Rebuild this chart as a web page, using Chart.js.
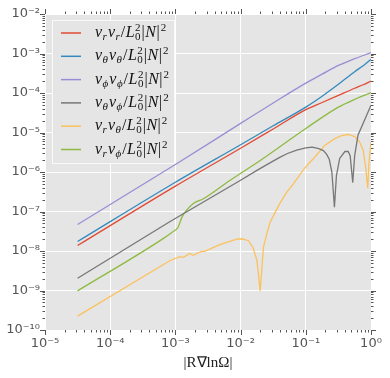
<!DOCTYPE html>
<html>
<head>
<meta charset="utf-8">
<script src="https://cdn.jsdelivr.net/npm/chart.js@4.4.1/dist/chart.umd.min.js"></script>
<style>
  html, body { margin: 0; padding: 0; background: #fff; }
  #wrap { width: 390px; height: 378px; }
</style>
</head>
<body>
<div id="wrap"><canvas id="grafico" width="390" height="378"></canvas></div>
<script>
// Datos (ejes log-log)
var xSuave = [3.16e-5, 1e-3, 1e-2, 3.16e-2, 0.1, 0.178, 0.316, 0.562, 0.759, 1];
var vrvr = [1.38e-8, 4.4e-7, 4.0e-6, 1.23e-5, 3.8e-5, 5.75e-5, 8.7e-5, 1.32e-4, 1.62e-4, 2.0e-4];
var vthvth = [1.74e-8, 5.5e-7, 4.9e-6, 1.48e-5, 4.4e-5, 8.3e-5, 1.66e-4, 3.47e-4, 4.9e-4, 7.1e-4];
var vphvph = [4.7e-8, 1.55e-6, 1.7e-5, 5.6e-5, 1.78e-4, 3.0e-4, 5.0e-4, 7.4e-4, 8.9e-4, 1.05e-3];

var xThPh = [3.16e-5, 8.3e-4, 1e-2, 1.78e-2, 2.82e-2, 3.98e-2, 5.13e-2, 7.24e-2, 0.1, 0.126, 0.158, 0.186, 0.209, 0.229, 0.251, 0.275, 0.295, 0.331, 0.398, 0.447, 0.479, 0.525, 0.562, 0.631, 0.813, 1];
var vthvph = [2.04e-9, 5.6e-8, 6.2e-7, 1.1e-6, 1.7e-6, 2.34e-6, 2.9e-6, 3.6e-6, 4.07e-6, 4.27e-6, 3.9e-6, 3.47e-6, 2.8e-6, 2.1e-6, 1.0e-6, 1.29e-7, 8.1e-7, 2.2e-6, 3.3e-6, 3.3e-6, 2.6e-6, 5.4e-7, 2.6e-6, 8.5e-6, 2.24e-5, 4.9e-5];

var xRTh = [3.16e-5, 8.3e-4, 1.17e-3, 1.32e-3, 1.66e-3, 1.86e-3, 2.51e-3, 2.82e-3, 4.79e-3, 8.7e-3, 1.05e-2, 1.32e-2, 1.55e-2, 1.78e-2, 2.0e-2, 2.24e-2, 2.51e-2, 2.82e-2, 3.39e-2, 3.98e-2, 5.01e-2, 6.46e-2, 9.1e-2, 0.112, 0.138, 0.195, 0.282, 0.355, 0.447, 0.562, 0.661, 0.759, 0.832, 0.891, 0.933, 1];
var vrvth = [2.24e-10, 5.75e-9, 7.2e-9, 6.9e-9, 8.7e-9, 7.8e-9, 9.8e-9, 9.8e-9, 1.45e-8, 2.0e-8, 2.04e-8, 1.82e-8, 1.23e-8, 5.75e-9, 9.8e-10, 1.23e-8, 2.63e-8, 5.25e-8, 9.5e-8, 1.58e-7, 2.95e-7, 5.0e-7, 1.12e-6, 1.66e-6, 2.4e-6, 4.7e-6, 7.1e-6, 8.3e-6, 8.9e-6, 7.9e-6, 6.0e-6, 3.55e-6, 1.26e-6, 3.9e-7, 1.78e-6, 5.8e-6];

var xRPh = [3.16e-5, 6.31e-4, 8.91e-4, 1.10e-3, 1.26e-3, 1.48e-3, 1.86e-3, 2.69e-3, 6.92e-3, 2.0e-2, 0.1, 0.316, 0.562, 1];
var vrvph = [9.8e-10, 2.0e-8, 3.0e-8, 4.0e-8, 7.2e-8, 1.07e-7, 1.58e-7, 2.1e-7, 6.2e-7, 1.95e-6, 1.26e-5, 4.4e-5, 6.9e-5, 1.02e-4];

var xTicks = [1e-5, 1e-4, 1e-3, 1e-2, 1e-1, 1];
var yTicks = [1e-10, 1e-9, 1e-8, 1e-7, 1e-6, 1e-5, 1e-4, 1e-3, 1e-2];

var colores = ['#E24A33', '#348ABD', '#988ED5', '#777777', '#FBC15E', '#8EBA42'];

// etiquetas de la leyenda: [texto, tipo] (i = cursiva, n = normal, _ = subíndice, ^ = superíndice)
function etiqueta(a, b) {
  return [[ 'v', 'i' ], [ a, '_i' ], [ 'v', 'i' ], [ b, '_i' ], [ '/', 'n' ], [ 'L', 'i' ],
          [ '0', '_^', '2' ], [ '|', 'n' ], [ 'N', 'i' ], [ '|', 'n' ], [ '2', '^' ]];
}
var leyenda = [etiqueta('r', 'r'), etiqueta('θ', 'θ'), etiqueta('ϕ', 'ϕ'),
               etiqueta('θ', 'ϕ'), etiqueta('r', 'θ'), etiqueta('r', 'ϕ')];

function puntos(xs, ys) {
  return xs.map(function (x, i) { return { x: x, y: ys[i] }; });
}

var supMap = { '-': '⁻', '0': '⁰', '1': '¹', '2': '²', '3': '³', '4': '⁴', '5': '⁵', '6': '⁶', '7': '⁷', '8': '⁸', '9': '⁹' };
function potencia(v) {
  var e = String(Math.round(Math.log10(v)));
  return '10' + e.split('').map(function (c) { return supMap[c]; }).join('');
}

var fondo = {
  id: 'fondo',
  beforeDraw: function (chart) {
    var c = chart.ctx, a = chart.chartArea;
    c.save();
    c.fillStyle = '#fff';
    c.fillRect(0, 0, chart.width, chart.height);
    c.fillStyle = '#E5E5E5';
    c.fillRect(a.left, a.top, a.right - a.left, a.bottom - a.top);
    c.restore();
  }
};

// marcas menores y mayores en los cuatro lados
var marcas = {
  id: 'marcas',
  afterDraw: function (chart) {
    var c = chart.ctx, a = chart.chartArea;
    var sx = chart.scales.x, sy = chart.scales.y;
    c.save();
    c.strokeStyle = '#555';
    c.lineWidth = 1;
    c.beginPath();
    for (var e = -5; e <= 0; e++) {
      for (var k = 1; k <= (e === 0 ? 1 : 9); k++) {
        var px = Math.round(sx.getPixelForValue(k * Math.pow(10, e))) + 0.5;
        var l = k === 1 ? 5 : 2.5;
        c.moveTo(px, a.bottom); c.lineTo(px, a.bottom + l);
        c.moveTo(px, a.top); c.lineTo(px, a.top - l);
      }
    }
    for (var f = -10; f <= -2; f++) {
      for (var j = 1; j <= (f === -2 ? 1 : 9); j++) {
        var py = Math.round(sy.getPixelForValue(j * Math.pow(10, f))) + 0.5;
        var m = j === 1 ? 5 : 2.5;
        c.moveTo(a.left, py); c.lineTo(a.left - m, py);
        c.moveTo(a.right, py); c.lineTo(a.right + m, py);
      }
    }
    c.stroke();
    c.restore();
  }
};

function dibujaTexto(c, x, y, partes) {
  var fam = '"Liberation Serif", "DejaVu Serif", serif';
  partes.forEach(function (p) {
    var t = p[0], tipo = p[1];
    if (tipo === 'i' || tipo === 'n') {
      c.font = (tipo === 'i' ? 'italic ' : '') + '16px ' + fam;
      c.fillText(t, x, y);
      x += c.measureText(t).width + 0.5;
    } else if (tipo === '_i') {
      c.font = 'italic 11px ' + fam;
      c.fillText(t, x, y + 3);
      x += c.measureText(t).width + 1;
    } else if (tipo === '^') {
      c.font = '11px ' + fam;
      c.fillText(t, x + 0.5, y - 6);
      x += c.measureText(t).width + 1;
    } else if (tipo === '_^') {
      c.font = '11px ' + fam;
      c.fillText(t, x, y + 3);
      c.fillText(p[2], x, y - 6);
      x += Math.max(c.measureText(t).width, c.measureText(p[2]).width) + 1;
    }
  });
}

var cajaLeyenda = {
  id: 'cajaLeyenda',
  afterDraw: function (chart) {
    var c = chart.ctx;
    c.save();
    c.fillStyle = '#E5E5E5';
    c.strokeStyle = '#FAFAFA';
    c.lineWidth = 1;
    c.fillRect(52.5, 20.5, 122, 143);
    c.strokeRect(52.5, 20.5, 122, 143);
    for (var i = 0; i < leyenda.length; i++) {
      var y = 33 + i * 23.3;
      c.strokeStyle = colores[i];
      c.lineWidth = 1.5;
      c.beginPath();
      c.moveTo(61, y); c.lineTo(81, y);
      c.stroke();
      c.fillStyle = '#111';
      c.textBaseline = 'alphabetic';
      dibujaTexto(c, 95, y + 4, leyenda[i]);
    }
    c.restore();
  }
};

// las curvas suaves usan interpolación monótona, las que tienen picos van rectas
var series = [
  { label: 'vr vr', xs: xSuave, ys: vrvr, suave: true },
  { label: 'vθ vθ', xs: xSuave, ys: vthvth, suave: true },
  { label: 'vϕ vϕ', xs: xSuave, ys: vphvph, suave: true },
  { label: 'vθ vϕ', xs: xThPh, ys: vthvph, suave: false },
  { label: 'vr vθ', xs: xRTh, ys: vrvth, suave: false },
  { label: 'vr vϕ', xs: xRPh, ys: vrvph, suave: true }
];

var ctx = document.getElementById('grafico').getContext('2d');
new Chart(ctx, {
  type: 'line',
  data: {
    datasets: series.map(function (s, i) {
      var d = {
        label: s.label,
        data: puntos(s.xs, s.ys),
        borderColor: colores[i],
        backgroundColor: colores[i],
        borderWidth: 1.3,
        pointRadius: 0,
        tension: 0,
        fill: false
      };
      if (s.suave) {
        d.cubicInterpolationMode = 'monotone';
      }
      return d;
    })
  },
  options: {
    responsive: false,
    animation: false,
    devicePixelRatio: 1,
    layout: { padding: { top: 14, right: 19, left: 0, bottom: 0 } },
    plugins: { legend: { display: false }, tooltip: { enabled: false } },
    scales: {
      x: {
        type: 'logarithmic',
        min: 1e-5,
        max: 1,
        afterBuildTicks: function (scale) {
          scale.ticks = xTicks.map(function (v) { return { value: v }; });
        },
        afterFit: function (scale) { scale.height = 48; },
        grid: { color: '#ffffff', lineWidth: 1, drawTicks: false },
        border: { display: false },
        ticks: {
          autoSkip: false,
          maxRotation: 0,
          padding: 6,
          color: '#555',
          font: { family: '"DejaVu Sans"', size: 13 },
          callback: function (v) { return potencia(v); }
        },
        title: {
          display: true,
          text: '|R∇lnΩ|',
          color: '#222',
          font: { family: '"Liberation Serif", serif', size: 15 },
          padding: { top: 0, bottom: 6 }
        }
      },
      y: {
        type: 'logarithmic',
        min: 1e-10,
        max: 1e-2,
        afterBuildTicks: function (scale) {
          scale.ticks = yTicks.map(function (v) { return { value: v }; });
        },
        afterFit: function (scale) { scale.width = 45; },
        grid: { color: '#ffffff', lineWidth: 1, drawTicks: false },
        border: { display: false },
        ticks: {
          autoSkip: false,
          padding: 5,
          color: '#555',
          font: { family: '"DejaVu Sans"', size: 13 },
          callback: function (v) { return potencia(v); }
        }
      }
    }
  },
  plugins: [fondo, marcas, cajaLeyenda]
});
</script>
</body>
</html>
